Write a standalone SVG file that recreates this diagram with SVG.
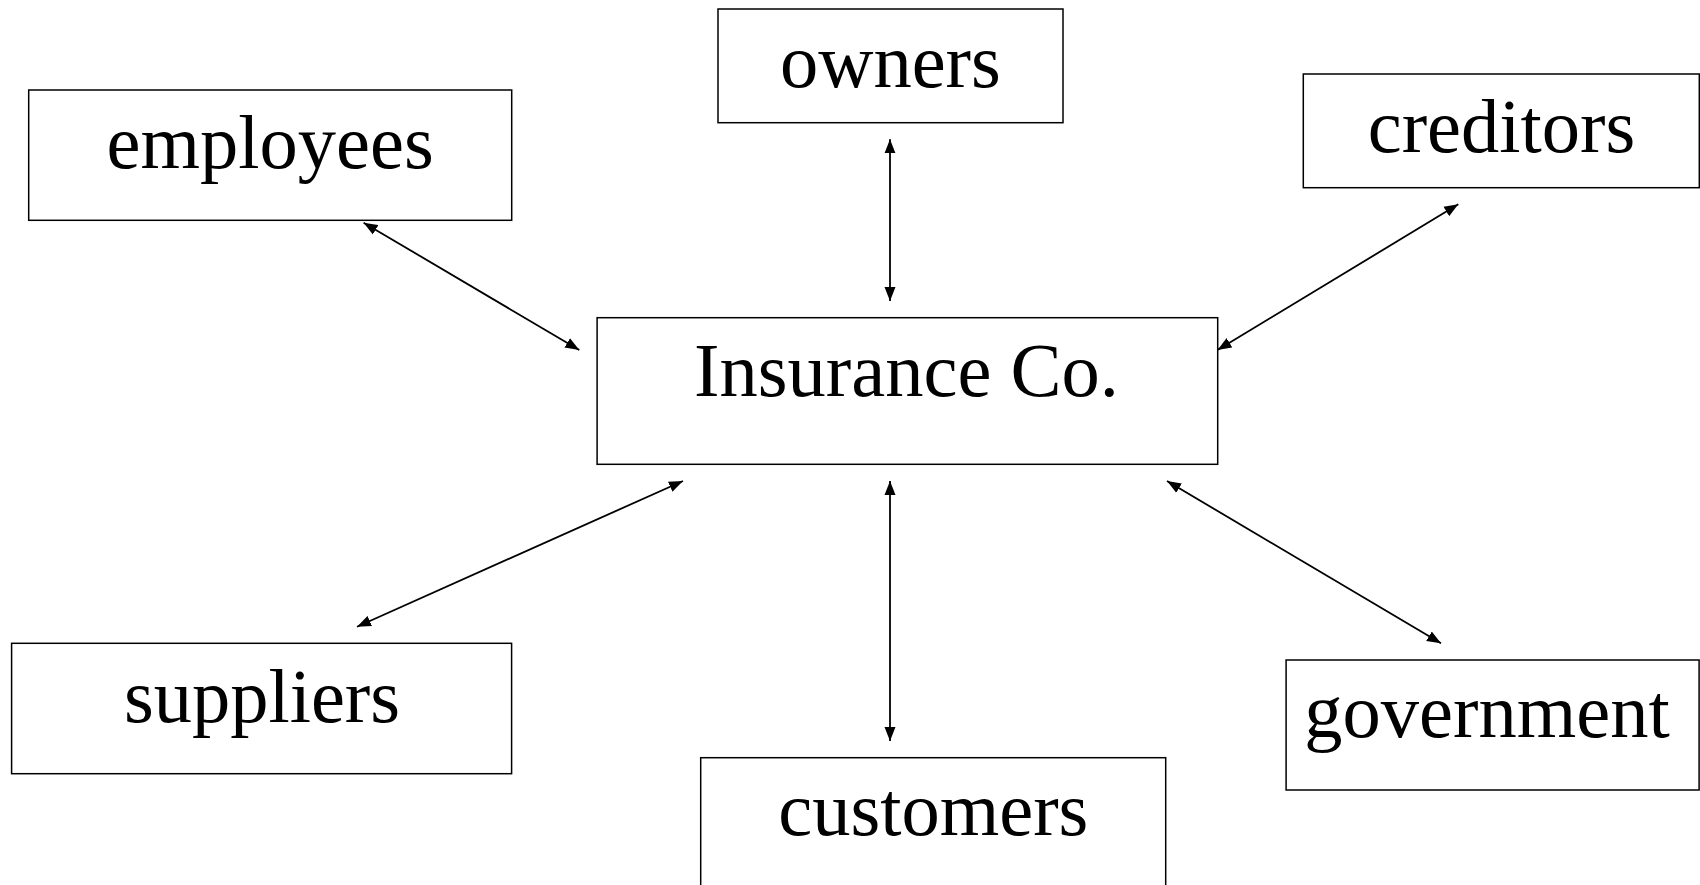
<svg xmlns="http://www.w3.org/2000/svg" width="1700" height="885" viewBox="0 0 1700 885">
<style>
.box{fill:#fff;stroke:#000;stroke-width:1.5}
.lbl{font-family:"Liberation Serif","Times New Roman",serif;font-size:76.5px;fill:#000;text-anchor:middle}
.con{stroke:#000;stroke-width:1.8;fill:none;marker-start:url(#ah);marker-end:url(#ah)}
</style>
<defs>
<marker id="ah" markerUnits="userSpaceOnUse" markerWidth="16" markerHeight="12" refX="14" refY="5.5" orient="auto-start-reverse" viewBox="0 0 16 11">
<path d="M0,0 L14,5.5 L0,11 z" fill="#000"/>
</marker>
</defs>
<rect width="1700" height="885" fill="#fff"/>
<g id="connectors">
<line class="con" x1="363.6" y1="222.7" x2="579.3" y2="350"/>
<line class="con" x1="890" y1="139.3" x2="890" y2="301"/>
<line class="con" x1="1458.3" y1="204.3" x2="1217.5" y2="350"/>
<line class="con" x1="357" y1="626.7" x2="683" y2="481"/>
<line class="con" x1="890" y1="481" x2="890" y2="741"/>
<line class="con" x1="1167" y1="481" x2="1441" y2="643.3"/>
</g>
<g id="node-owners">
<rect class="box" x="718" y="9" width="345" height="113.7"/>
<text class="lbl" x="890.4" y="86.7">owners</text>
</g>
<g id="node-employees">
<rect class="box" x="28.7" y="90" width="483" height="130.3"/>
<text class="lbl" x="270.2" y="168">employees</text>
</g>
<g id="node-creditors">
<rect class="box" x="1303.3" y="74" width="396" height="113.7"/>
<text class="lbl" x="1501.5" y="151.7">creditors</text>
</g>
<g id="node-insurance">
<rect class="box" x="597.1" y="317.7" width="620.6" height="146.6"/>
<text class="lbl" x="906.5" y="396">Insurance Co.</text>
</g>
<g id="node-suppliers">
<rect class="box" x="11.6" y="643.3" width="500" height="130.4"/>
<text class="lbl" x="262" y="721.7">suppliers</text>
</g>
<g id="node-customers">
<rect class="box" x="700.7" y="757.7" width="465" height="140"/>
<text class="lbl" x="933.3" y="835">customers</text>
</g>
<g id="node-government">
<rect class="box" x="1286.1" y="660" width="413" height="130"/>
<text class="lbl" x="1487" y="736.7">government</text>
</g>
</svg>
